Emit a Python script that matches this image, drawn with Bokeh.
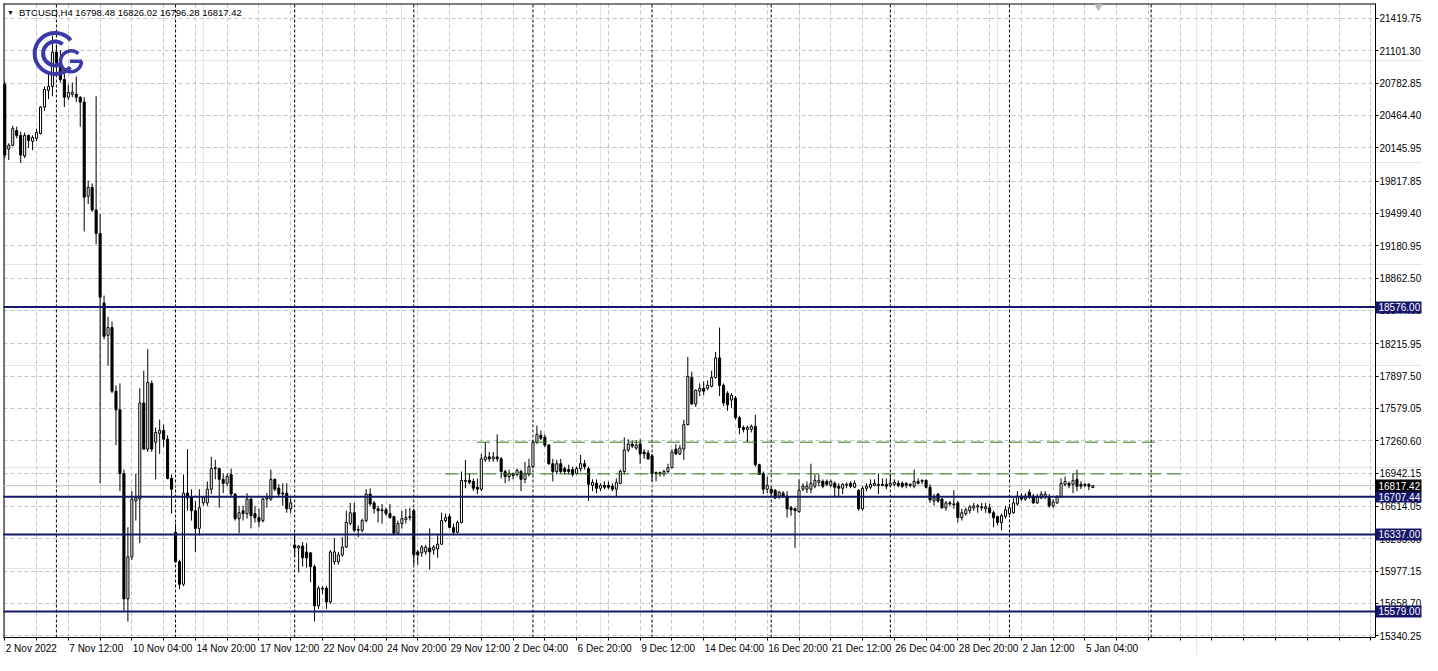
from bokeh.plotting import figure
from bokeh.models import (FixedTicker, PrintfTickFormatter, ColumnDataSource, Range1d,
                          LinearAxis, Grid)
from bokeh.embed import file_html
from bokeh.resources import INLINE
from bokeh.core.properties import value

# ---------------- data (BTCUSD, H4) ----------------
opens = [20768, 20131, 20170, 20315, 20267, 20064, 20267, 20209, 20238, 20286,
         20546, 20710, 20749, 21087, 20981, 20817, 20643, 20672, 20672, 20643,
         20595, 19668, 19755, 19533, 19302, 18616, 18298, 18375, 17748, 17565,
         16937, 15702, 16117, 16667, 16686, 17632, 17178, 17825, 17246, 17333,
         17362, 17275, 16889, 16358, 16069, 15847, 16744, 16706, 16571, 16397,
         16648, 16648, 16783, 16995, 16986, 16880, 16841, 16928, 16735, 16493,
         16571, 16542, 16686, 16542, 16503, 16474, 16686, 16686, 16880, 16792,
         16744, 16744, 16590, 16233, 16204, 16223, 16165, 16156, 16020, 15635,
         15799, 15808, 15673, 16069, 16069, 16136, 16213, 16445, 16551, 16378,
         16378, 16474, 16735, 16648, 16590, 16580, 16580, 16542, 16513, 16349,
         16445, 16484, 16503, 16571, 16165, 16156, 16165, 16204, 16185, 16194,
         16242, 16474, 16513, 16407, 16358, 16455, 16860, 16870, 16860, 16802,
         16783, 17072, 17101, 17082, 17101, 17082, 16957, 16908, 16937, 16928,
         16957, 16880, 16928, 17005, 17246, 17314, 17294, 17217, 17034, 16957,
         17034, 16986, 16976, 16976, 16937, 16986, 17034, 16986, 16821, 16841,
         16792, 16821, 16821, 16812, 16783, 16841, 16957, 17169, 17227, 17188,
         17227, 17150, 17140, 17111, 16947, 16947, 16937, 16957, 16995, 17178,
         17130, 17178, 17420, 17883, 17622, 17748, 17777, 17777, 17796, 17883,
         18076, 17806, 17729, 17661, 17680, 17487, 17391, 17372, 17372, 17401,
         17024, 16937, 16783, 16783, 16773, 16715, 16744, 16715, 16600, 16590,
         16561, 16783, 16783, 16783, 16812, 16850, 16860, 16860, 16821, 16841,
         16812, 16792, 16821, 16841, 16802, 16773, 16590, 16792, 16802, 16821,
         16831, 16831, 16831, 16821, 16831, 16841, 16841, 16841, 16831, 16812,
         16860, 16860, 16870, 16802, 16667, 16735, 16686, 16600, 16648, 16638,
         16648, 16503, 16542, 16571, 16600, 16609, 16609, 16590, 16600, 16551,
         16513, 16455, 16513, 16542, 16551, 16638, 16715, 16686, 16754, 16715,
         16648, 16696, 16706, 16706, 16619, 16648, 16706, 16831, 16841, 16831,
         16880, 16831, 16831, 16831, 16798.48]

highs = [20797, 20189, 20363, 20353, 20305, 20296, 20276, 20267, 20334, 20556,
         20749, 20884, 21251, 21154, 21106, 20913, 20768, 20788, 20846, 20653,
         20643, 19823, 19794, 20653, 19495, 18690, 18481, 18433, 17806, 17825,
         16976, 16407, 16764, 16937, 17777, 17950, 18163, 17854, 17391, 17468,
         17420, 17314, 16928, 16445, 16088, 16928, 17178, 16783, 16667, 16783,
         16715, 16860, 17101, 17072, 16995, 16937, 16937, 16986, 16744, 16619,
         16619, 16744, 16696, 16619, 16590, 16696, 16744, 16976, 16889, 16831,
         16841, 16841, 16696, 16349, 16233, 16262, 16252, 16165, 16040, 15828,
         15828, 15828, 16185, 16300, 16165, 16310, 16571, 16648, 16648, 16426,
         16493, 16783, 16792, 16667, 16619, 16638, 16600, 16638, 16522, 16474,
         16571, 16590, 16600, 16590, 16185, 16233, 16233, 16397, 16233, 16329,
         16551, 16542, 16542, 16445, 16474, 16957, 17072, 16937, 16889, 16889,
         17130, 17246, 17150, 17150, 17323, 17101, 16976, 16976, 16947, 16986,
         16976, 17053, 17082, 17265, 17410, 17362, 17323, 17227, 17082, 17072,
         17082, 17005, 17024, 17005, 17005, 17120, 17072, 17005, 16880, 16880,
         16841, 16860, 16860, 16841, 16889, 16976, 17294, 17275, 17265, 17265,
         17275, 17178, 17169, 17130, 16957, 16957, 16976, 17034, 17178, 17227,
         17217, 17468, 18086, 17941, 17767, 17825, 17844, 17854, 17950, 18134,
         18375, 17825, 17748, 17729, 17700, 17507, 17410, 17410, 17420, 17516,
         17034, 16957, 16908, 16812, 16783, 16764, 16764, 16764, 16619, 16600,
         16880, 16841, 16860, 17034, 16928, 16928, 16880, 16880, 16880, 16860,
         16841, 16841, 16850, 16860, 16870, 16783, 16812, 16841, 16880, 16880,
         16937, 16889, 16889, 16928, 16880, 16870, 16860, 16850, 16841, 16976,
         16889, 16880, 16880, 16831, 16735, 16744, 16696, 16667, 16667, 16773,
         16667, 16590, 16600, 16629, 16648, 16638, 16648, 16648, 16638, 16571,
         16522, 16542, 16619, 16638, 16696, 16764, 16744, 16744, 16783, 16735,
         16735, 16764, 16764, 16735, 16686, 16725, 16889, 16908, 16860, 16937,
         16976, 16860, 16841, 16841, 16826.02]

lows = [20045, 20025, 20160, 20238, 19996, 20045, 20141, 20122, 20209, 20276,
        20508, 20624, 20653, 20913, 20788, 20546, 20614, 20643, 20595, 20353,
        19321, 19591, 19514, 19195, 16841, 18259, 17999, 17729, 17217, 16764,
        15586, 15480, 16088, 16474, 16252, 17169, 17150, 17150, 16880, 17130,
        17198, 16880, 16542, 16059, 15799, 15828, 16571, 16474, 16165, 16329,
        16619, 16619, 16735, 16880, 16600, 16744, 16812, 16715, 16474, 16349,
        16474, 16493, 16397, 16455, 16407, 16455, 16600, 16667, 16764, 16715,
        16619, 16551, 16542, 16117, 15963, 16020, 16011, 15866, 15480, 15605,
        15750, 15605, 15654, 16040, 16040, 16117, 16204, 16426, 16358, 16310,
        16358, 16455, 16619, 16542, 16455, 16445, 16522, 16493, 16329, 16339,
        16397, 16445, 16474, 16040, 16040, 16117, 16136, 15992, 16136, 16107,
        16233, 16455, 16397, 16329, 16349, 16445, 16792, 16831, 16764, 16735,
        16764, 17053, 17053, 17053, 17053, 16889, 16841, 16860, 16880, 16908,
        16764, 16841, 16908, 16986, 17227, 17265, 17198, 17024, 16860, 16928,
        16937, 16928, 16928, 16908, 16928, 16957, 16976, 16667, 16764, 16744,
        16764, 16783, 16783, 16764, 16715, 16831, 16928, 17150, 17188, 17169,
        17034, 17082, 17072, 16860, 16860, 16908, 16908, 16937, 16986, 17120,
        17120, 17072, 17410, 17613, 17593, 17700, 17709, 17757, 17786, 17873,
        17700, 17603, 17555, 17584, 17468, 17323, 17342, 17246, 17342, 17005,
        16928, 16735, 16744, 16715, 16686, 16686, 16696, 16503, 16522, 16204,
        16551, 16764, 16744, 16744, 16792, 16812, 16792, 16812, 16802, 16715,
        16715, 16735, 16792, 16792, 16792, 16571, 16571, 16764, 16783, 16812,
        16735, 16812, 16783, 16802, 16812, 16802, 16792, 16792, 16802, 16792,
        16831, 16831, 16792, 16648, 16619, 16648, 16590, 16571, 16619, 16590,
        16455, 16474, 16522, 16542, 16571, 16551, 16571, 16551, 16542, 16407,
        16426, 16378, 16493, 16522, 16542, 16619, 16667, 16667, 16686, 16638,
        16638, 16686, 16686, 16600, 16600, 16638, 16696, 16812, 16792, 16744,
        16764, 16783, 16802, 16773, 16796.28]

closes = [20074, 20170, 20334, 20267, 20074, 20267, 20218, 20247, 20296, 20546,
          20720, 20749, 21087, 20981, 20817, 20643, 20691, 20691, 20643, 20595,
          19659, 19755, 19533, 19302, 18674, 18288, 18375, 17748, 17565, 16937,
          15702, 16117, 16686, 16696, 17632, 17178, 17835, 17178, 17342, 17362,
          17275, 16889, 16783, 16069, 15847, 16744, 16696, 16571, 16397, 16600,
          16706, 16783, 16986, 16986, 16880, 16841, 16908, 16735, 16493, 16551,
          16542, 16686, 16522, 16503, 16465, 16686, 16696, 16880, 16783, 16735,
          16735, 16590, 16648, 16204, 16223, 16107, 16107, 16020, 15635, 15808,
          15808, 15673, 16165, 16165, 16136, 16213, 16455, 16551, 16378, 16387,
          16474, 16735, 16638, 16590, 16571, 16571, 16542, 16503, 16349, 16445,
          16493, 16503, 16513, 16136, 16136, 16213, 16213, 16165, 16213, 16242,
          16474, 16503, 16407, 16358, 16455, 16870, 16870, 16850, 16792, 16783,
          17082, 17101, 17082, 17101, 17082, 16957, 16908, 16937, 16918, 16966,
          16880, 16937, 17005, 17246, 17323, 17285, 17217, 17034, 16957, 17034,
          16957, 16957, 16957, 16928, 16986, 17034, 17005, 16831, 16850, 16792,
          16821, 16802, 16802, 16783, 16850, 16957, 17169, 17227, 17208, 17217,
          17130, 17130, 17082, 16937, 16937, 16937, 16957, 16995, 17150, 17130,
          17188, 17420, 17893, 17622, 17757, 17777, 17748, 17806, 17883, 18076,
          17806, 17632, 17613, 17709, 17487, 17391, 17372, 17391, 17401, 17024,
          16928, 16783, 16821, 16744, 16696, 16754, 16715, 16590, 16580, 16571,
          16773, 16812, 16812, 16841, 16870, 16870, 16812, 16831, 16860, 16802,
          16792, 16831, 16831, 16812, 16841, 16590, 16792, 16812, 16831, 16841,
          16821, 16821, 16812, 16841, 16850, 16821, 16812, 16821, 16821, 16860,
          16841, 16870, 16802, 16677, 16696, 16667, 16600, 16648, 16638, 16629,
          16503, 16551, 16580, 16609, 16619, 16619, 16600, 16609, 16551, 16503,
          16455, 16522, 16580, 16600, 16648, 16715, 16686, 16715, 16706, 16648,
          16706, 16735, 16735, 16619, 16657, 16706, 16841, 16860, 16821, 16870,
          16812, 16812, 16821, 16812, 16817.42]

# bar index of labelled times on the time scale
x_tick_index = [0, 16, 32, 48, 64, 80, 96, 112, 128, 144, 160, 176, 192, 208, 224, 240, 256, 272]
x_tick_labels = ["2 Nov 2022", "7 Nov 12:00", "10 Nov 04:00", "14 Nov 20:00", "17 Nov 12:00",
                 "22 Nov 04:00", "24 Nov 20:00", "29 Nov 12:00", "2 Dec 04:00", "6 Dec 20:00",
                 "9 Dec 12:00", "14 Dec 04:00", "16 Dec 20:00", "21 Dec 12:00", "26 Dec 04:00",
                 "28 Dec 20:00", "2 Jan 12:00", "5 Jan 04:00"]
y_tick_values = [21419.75, 21101.30, 20782.85, 20464.40, 20145.95, 19817.85, 19499.40,
                 19180.95, 18862.50, 18544.05, 18215.95, 17897.50, 17579.05, 17260.60,
                 16942.15, 16614.05, 16295.60, 15977.15, 15658.70, 15340.25]
# week separators (bar index of Monday 00:00)
week_starts = [13, 43, 73, 103, 133, 163, 193, 223, 253]
# horizontal levels
levels = [18576.00, 16707.44, 16337.00, 15579.00]
bid_price = 16817.42
green_levels = [17246, 16934]
green_from = [118.9, 110.9]
green_to = [290.7, 297.7]

# ---------------- layout ----------------
W, H = 1422, 655
REF_PX_PER_BAR, REF_BAR0 = 4.0, 4.3
REF_P0, REF_USD_PER_PX = 21595.0, 9.65

def dx(px):             # reference pixel column -> bar index
    return (px - REF_BAR0) / REF_PX_PER_BAR

def dy(py):             # reference pixel row -> price
    return REF_P0 - REF_USD_PER_PX * py

# chart area in data units (as in the reference) and on this canvas
X0, X1 = dx(3), dx(1385)
Y0, Y1 = dy(650), dy(3)
CX0, CX1, CY0, CY1 = 3, 1375, 3, 637
FX0, FY0 = 2, 2                   # frame origin
PPB = (CX1 - CX0) / (X1 - X0)
UPP = (Y1 - Y0) / (CY1 - CY0)
XR = Range1d(X0 - (CX0 - FX0) / PPB, X0 + (W - CX0) / PPB)
YR = Range1d(Y0 - (H - CY1) * UPP, Y1 + (CY0 - FY0) * UPP)

FONT = "Liberation Sans"
NAVY = "#16166a"
GRID = "#c4c4c4"

p = figure(width=W, height=H, x_range=XR, y_range=YR,
           x_axis_location=None, y_axis_location=None,
           output_backend="svg", toolbar_location=None,
           min_border_left=FX0, min_border_top=FY0, min_border_right=0, min_border_bottom=0,
           background_fill_color="white", border_fill_color="white")
p.outline_line_color = None

# grid, limited to the chart area
vgrid = list(range(0, 346, 8))
if "cross_bounds" in Grid.properties():
    gx = Grid(dimension=0, ticker=FixedTicker(ticks=vgrid), cross_bounds=(Y0, Y1))
    gy = Grid(dimension=1, ticker=FixedTicker(ticks=y_tick_values), cross_bounds=(X0, X1))
    for g in (gx, gy):
        g.grid_line_color = GRID
        g.grid_line_dash = "4 3"
        g.grid_line_width = 1
        p.add_layout(g)
else:
    p.segment(x0=vgrid, y0=[Y0] * len(vgrid), x1=vgrid, y1=[Y1] * len(vgrid),
              line_color=GRID, line_dash="4 3", line_width=1)
    p.segment(x0=[X0] * len(y_tick_values), y0=y_tick_values, x1=[X1] * len(y_tick_values),
              y1=y_tick_values, line_color=GRID, line_dash="4 3", line_width=1)

# chart border (left / top); bottom and right are the axis lines
p.segment(x0=[X0 + 0.5 / PPB, X0], y0=[Y0, Y1 - 0.5 * UPP], x1=[X0 + 0.5 / PPB, X1],
          y1=[Y1, Y1 - 0.5 * UPP], line_color="black", line_width=1)

# time axis: labels start at their bar (left aligned), tick marks every 8 bars
ARIAL = {"0": 556, "1": 556, "2": 556, "3": 556, "4": 556, "5": 556, "6": 556, "7": 556,
         "8": 556, "9": 556, " ": 278, ":": 278, "N": 722, "o": 556, "v": 500, "D": 722,
         "e": 556, "c": 500, "J": 500, "a": 556, "n": 556}

def text_w(s, size):
    return sum(ARIAL.get(ch, 556) for ch in s) * size / 1000.0

label_pos = [i + (text_w(t, 10) / 2 + 1) / PPB for i, t in zip(x_tick_index, x_tick_labels)]
xaxis = LinearAxis(fixed_location=Y0, bounds=(X0, X1),
                   ticker=FixedTicker(ticks=label_pos, minor_ticks=vgrid),
                   major_label_overrides={pos: t for pos, t in zip(label_pos, x_tick_labels)},
                   major_label_text_font=FONT, major_label_text_font_size="10px",
                   major_label_text_color="black", major_tick_out=0, major_tick_in=0,
                   minor_tick_out=3, minor_tick_in=0, minor_tick_line_color="black",
                   major_label_standoff=2, axis_line_color="black")
p.add_layout(xaxis, "below")

# price axis
yaxis = LinearAxis(fixed_location=X1, bounds=(Y0, Y1),
                   ticker=FixedTicker(ticks=y_tick_values),
                   formatter=PrintfTickFormatter(format="%.2f"),
                   major_label_text_font=FONT, major_label_text_font_size="10px",
                   major_label_text_color="black", major_tick_out=3, major_tick_in=0,
                   minor_tick_line_color=None, major_label_standoff=1,
                   axis_line_color="black")
p.add_layout(yaxis, "right")

# week separators
sep = week_starts + [dx(1159)]
p.segment(x0=sep, y0=[Y0] * len(sep), x1=sep, y1=[Y1] * len(sep),
          line_color="black", line_dash="3 2", line_width=1)

# bid line
p.segment(x0=[X0], y0=[bid_price], x1=[X1], y1=[bid_price], line_color="#c0c0c0", line_width=1)

# candles
idx = list(range(len(opens)))
src = ColumnDataSource(dict(
    x=idx, o=opens, h=highs, l=lows, c=closes,
    top=[max(a, b) for a, b in zip(opens, closes)],
    bot=[min(a, b) for a, b in zip(opens, closes)],
    fill=["white" if c >= o else "black" for o, c in zip(opens, closes)],
))
p.segment(x0="x", y0="l", x1="x", y1="h", source=src, line_color="black", line_width=1)
p.vbar(x="x", width=0.52, top="top", bottom="bot", source=src,
       fill_color="fill", line_color="black", line_width=1)

# green dashed levels
p.segment(x0=green_from, y0=green_levels, x1=green_to, y1=green_levels,
          line_color="#2f7410", line_width=1, line_dash="13 6")

# navy horizontal levels
p.segment(x0=[X0] * len(levels), y0=levels, x1=[X1] * len(levels), y1=levels,
          line_color=NAVY, line_width=2)

# price tags on the scale (extra axes pinned to the price axis)
def tag_axis(ticks, color):
    ax = LinearAxis(fixed_location=X1, ticker=FixedTicker(ticks=ticks),
                    formatter=PrintfTickFormatter(format="%.2f"),
                    axis_line_color=None, minor_tick_line_color=None,
                    major_tick_line_color=color, major_tick_line_width=12,
                    major_tick_out=46, major_tick_in=0, major_label_standoff=-43,
                    major_label_text_color="white", major_label_text_font=FONT,
                    major_label_text_font_size="10px")
    p.add_layout(ax, "right")

tag_axis(levels, NAVY)
tag_axis([bid_price], "black")

# header
p.text(x=[dx(10)], y=[dy(12)], text=["\u25bc"], text_font=value(FONT), text_font_size="7px",
       text_baseline="middle", text_align="center", text_color="black")
p.text(x=[dx(18.5)], y=[dy(12)],
       text=[f"BTCUSD,H4  {opens[-1]:.2f} {highs[-1]:.2f} {lows[-1]:.2f} {closes[-1]:.2f}"],
       text_font=value(FONT), text_font_size="9.5px", text_baseline="middle",
       text_align="left", text_color="black")

# chart-shift marker
p.scatter(x=[dx(1106)], y=[dy(6)], marker="inverted_triangle", size=7,
          fill_color="#b8b8b8", line_color="#b8b8b8")

# logo
LOGO = "#3a3aa6"
p.arc(x=[dx(55)], y=[dy(54)], radius=20.5, radius_units="screen", start_angle=0.7,
      end_angle=5.55, line_color=LOGO, line_width=4)
p.arc(x=[dx(55)], y=[dy(54)], radius=12, radius_units="screen", start_angle=0.9,
      end_angle=5.3, line_color=LOGO, line_width=4)
p.arc(x=[dx(71)], y=[dy(62)], radius=10.5, radius_units="screen", start_angle=0.8,
      end_angle=6.28, line_color=LOGO, line_width=3.5)
p.segment(x0=[dx(70)], y0=[dy(62)], x1=[dx(82)], y1=[dy(62)], line_color=LOGO, line_width=3.5)

open("out.html", "w").write(file_html(p, INLINE))
